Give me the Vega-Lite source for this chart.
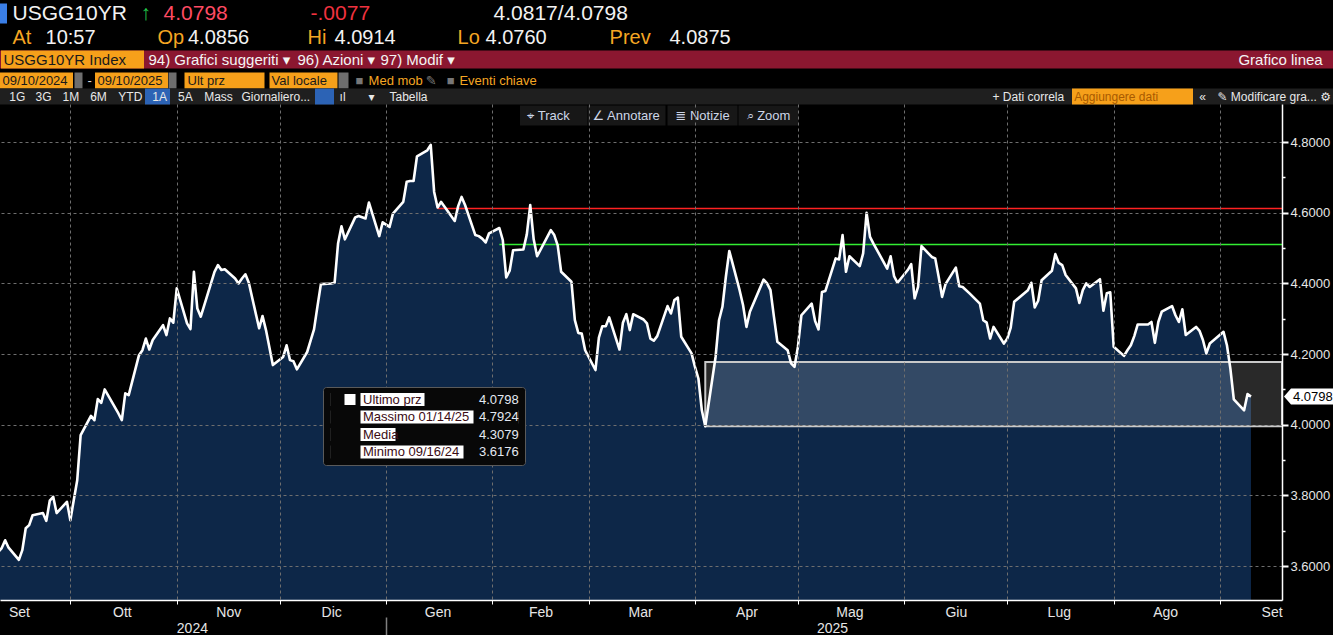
{
"$schema": "https://vega.github.io/schema/vega-lite/v6.json",
"width": 1282, "height": 496,
"autosize": {"type": "none"},
"padding": {"left": 0, "top": 104, "right": 51, "bottom": 35},
"background": "#000000",
"config": {
  "view": {"stroke": null},
  "axis": {"labelFlush": false, "labelOverlap": false, "labelBound": false, "labelLimit": 0, "labelFont": "Liberation Sans, DejaVu Sans, sans-serif", "grid": false, "domain": false, "tickCap": "butt"}
},
"datasets": {
  "prices": [
{"date":"2024-09-10","value":3.640},{"date":"2024-09-11","value":3.651},{"date":"2024-09-12","value":3.673},{"date":"2024-09-13","value":3.652},{"date":"2024-09-16","value":3.6176},{"date":"2024-09-17","value":3.645},{"date":"2024-09-18","value":3.707},{"date":"2024-09-19","value":3.716},{"date":"2024-09-20","value":3.744},{"date":"2024-09-23","value":3.750},{"date":"2024-09-24","value":3.728},{"date":"2024-09-25","value":3.785},{"date":"2024-09-26","value":3.796},{"date":"2024-09-27","value":3.750},{"date":"2024-09-30","value":3.782},
{"date":"2024-10-01","value":3.730},{"date":"2024-10-02","value":3.787},{"date":"2024-10-03","value":3.843},{"date":"2024-10-04","value":3.971},{"date":"2024-10-07","value":4.025},{"date":"2024-10-08","value":4.013},{"date":"2024-10-09","value":4.073},{"date":"2024-10-10","value":4.062},{"date":"2024-10-11","value":4.100},{"date":"2024-10-15","value":4.032},{"date":"2024-10-16","value":4.013},{"date":"2024-10-17","value":4.089},{"date":"2024-10-18","value":4.084},{"date":"2024-10-21","value":4.197},{"date":"2024-10-22","value":4.211},{"date":"2024-10-23","value":4.244},{"date":"2024-10-24","value":4.213},{"date":"2024-10-25","value":4.240},{"date":"2024-10-28","value":4.282},{"date":"2024-10-29","value":4.254},{"date":"2024-10-30","value":4.301},{"date":"2024-10-31","value":4.289},
{"date":"2024-11-01","value":4.386},{"date":"2024-11-04","value":4.287},{"date":"2024-11-05","value":4.271},{"date":"2024-11-06","value":4.433},{"date":"2024-11-07","value":4.329},{"date":"2024-11-08","value":4.306},{"date":"2024-11-12","value":4.433},{"date":"2024-11-13","value":4.452},{"date":"2024-11-14","value":4.438},{"date":"2024-11-15","value":4.440},{"date":"2024-11-18","value":4.414},{"date":"2024-11-19","value":4.400},{"date":"2024-11-20","value":4.414},{"date":"2024-11-21","value":4.426},{"date":"2024-11-22","value":4.402},{"date":"2024-11-25","value":4.273},{"date":"2024-11-26","value":4.308},{"date":"2024-11-27","value":4.268},{"date":"2024-11-29","value":4.169},
{"date":"2024-12-02","value":4.192},{"date":"2024-12-03","value":4.225},{"date":"2024-12-04","value":4.183},{"date":"2024-12-05","value":4.180},{"date":"2024-12-06","value":4.157},{"date":"2024-12-09","value":4.206},{"date":"2024-12-10","value":4.238},{"date":"2024-12-11","value":4.270},{"date":"2024-12-12","value":4.335},{"date":"2024-12-13","value":4.398},{"date":"2024-12-16","value":4.400},{"date":"2024-12-17","value":4.402},{"date":"2024-12-18","value":4.513},{"date":"2024-12-19","value":4.562},{"date":"2024-12-20","value":4.525},{"date":"2024-12-23","value":4.587},{"date":"2024-12-24","value":4.591},{"date":"2024-12-26","value":4.584},{"date":"2024-12-27","value":4.629},{"date":"2024-12-30","value":4.534},{"date":"2024-12-31","value":4.573},
{"date":"2025-01-02","value":4.560},{"date":"2025-01-03","value":4.598},{"date":"2025-01-06","value":4.631},{"date":"2025-01-07","value":4.688},{"date":"2025-01-08","value":4.690},{"date":"2025-01-09","value":4.690},{"date":"2025-01-10","value":4.760},{"date":"2025-01-13","value":4.777},{"date":"2025-01-14","value":4.7924},{"date":"2025-01-15","value":4.659},{"date":"2025-01-16","value":4.615},{"date":"2025-01-17","value":4.631},{"date":"2025-01-21","value":4.577},{"date":"2025-01-22","value":4.619},{"date":"2025-01-23","value":4.645},{"date":"2025-01-24","value":4.622},{"date":"2025-01-27","value":4.537},{"date":"2025-01-28","value":4.534},{"date":"2025-01-29","value":4.527},{"date":"2025-01-30","value":4.516},{"date":"2025-01-31","value":4.542},
{"date":"2025-02-03","value":4.557},{"date":"2025-02-04","value":4.523},{"date":"2025-02-05","value":4.417},{"date":"2025-02-06","value":4.436},{"date":"2025-02-07","value":4.494},{"date":"2025-02-10","value":4.496},{"date":"2025-02-11","value":4.539},{"date":"2025-02-12","value":4.622},{"date":"2025-02-13","value":4.525},{"date":"2025-02-14","value":4.477},{"date":"2025-02-18","value":4.551},{"date":"2025-02-19","value":4.537},{"date":"2025-02-20","value":4.508},{"date":"2025-02-21","value":4.433},{"date":"2025-02-24","value":4.405},{"date":"2025-02-25","value":4.296},{"date":"2025-02-26","value":4.260},{"date":"2025-02-27","value":4.258},{"date":"2025-02-28","value":4.211},
{"date":"2025-03-03","value":4.155},{"date":"2025-03-04","value":4.247},{"date":"2025-03-05","value":4.279},{"date":"2025-03-06","value":4.279},{"date":"2025-03-07","value":4.304},{"date":"2025-03-10","value":4.213},{"date":"2025-03-11","value":4.289},{"date":"2025-03-12","value":4.313},{"date":"2025-03-13","value":4.268},{"date":"2025-03-14","value":4.313},{"date":"2025-03-17","value":4.298},{"date":"2025-03-18","value":4.287},{"date":"2025-03-19","value":4.244},{"date":"2025-03-20","value":4.238},{"date":"2025-03-21","value":4.251},{"date":"2025-03-24","value":4.336},{"date":"2025-03-25","value":4.315},{"date":"2025-03-26","value":4.353},{"date":"2025-03-27","value":4.360},{"date":"2025-03-28","value":4.249},{"date":"2025-03-31","value":4.202},
{"date":"2025-04-01","value":4.164},{"date":"2025-04-02","value":4.131},{"date":"2025-04-03","value":4.041},{"date":"2025-04-04","value":3.996},{"date":"2025-04-07","value":4.192},{"date":"2025-04-08","value":4.296},{"date":"2025-04-09","value":4.334},{"date":"2025-04-10","value":4.419},{"date":"2025-04-11","value":4.492},{"date":"2025-04-14","value":4.381},{"date":"2025-04-15","value":4.339},{"date":"2025-04-16","value":4.277},{"date":"2025-04-17","value":4.320},{"date":"2025-04-21","value":4.411},{"date":"2025-04-22","value":4.400},{"date":"2025-04-23","value":4.381},{"date":"2025-04-24","value":4.306},{"date":"2025-04-25","value":4.235},{"date":"2025-04-28","value":4.211},{"date":"2025-04-29","value":4.174},{"date":"2025-04-30","value":4.164},
{"date":"2025-05-01","value":4.221},{"date":"2025-05-02","value":4.310},{"date":"2025-05-05","value":4.343},{"date":"2025-05-06","value":4.294},{"date":"2025-05-07","value":4.270},{"date":"2025-05-08","value":4.376},{"date":"2025-05-09","value":4.379},{"date":"2025-05-12","value":4.471},{"date":"2025-05-13","value":4.468},{"date":"2025-05-14","value":4.537},{"date":"2025-05-15","value":4.433},{"date":"2025-05-16","value":4.477},{"date":"2025-05-19","value":4.449},{"date":"2025-05-20","value":4.485},{"date":"2025-05-21","value":4.600},{"date":"2025-05-22","value":4.532},{"date":"2025-05-23","value":4.513},{"date":"2025-05-27","value":4.442},{"date":"2025-05-28","value":4.477},{"date":"2025-05-29","value":4.421},{"date":"2025-05-30","value":4.402},
{"date":"2025-06-02","value":4.438},{"date":"2025-06-03","value":4.455},{"date":"2025-06-04","value":4.358},{"date":"2025-06-05","value":4.390},{"date":"2025-06-06","value":4.506},{"date":"2025-06-09","value":4.475},{"date":"2025-06-10","value":4.471},{"date":"2025-06-11","value":4.419},{"date":"2025-06-12","value":4.362},{"date":"2025-06-13","value":4.398},{"date":"2025-06-16","value":4.445},{"date":"2025-06-17","value":4.392},{"date":"2025-06-18","value":4.390},{"date":"2025-06-20","value":4.372},{"date":"2025-06-23","value":4.343},{"date":"2025-06-24","value":4.296},{"date":"2025-06-25","value":4.289},{"date":"2025-06-26","value":4.244},{"date":"2025-06-27","value":4.277},{"date":"2025-06-30","value":4.230},
{"date":"2025-07-01","value":4.244},{"date":"2025-07-02","value":4.275},{"date":"2025-07-03","value":4.348},{"date":"2025-07-07","value":4.381},{"date":"2025-07-08","value":4.402},{"date":"2025-07-09","value":4.332},{"date":"2025-07-10","value":4.351},{"date":"2025-07-11","value":4.409},{"date":"2025-07-14","value":4.436},{"date":"2025-07-15","value":4.483},{"date":"2025-07-16","value":4.458},{"date":"2025-07-17","value":4.452},{"date":"2025-07-18","value":4.424},{"date":"2025-07-21","value":4.386},{"date":"2025-07-22","value":4.345},{"date":"2025-07-23","value":4.381},{"date":"2025-07-24","value":4.400},{"date":"2025-07-25","value":4.390},{"date":"2025-07-28","value":4.412},{"date":"2025-07-29","value":4.323},{"date":"2025-07-30","value":4.372},{"date":"2025-07-31","value":4.375},
{"date":"2025-08-01","value":4.221},{"date":"2025-08-04","value":4.195},{"date":"2025-08-05","value":4.211},{"date":"2025-08-06","value":4.225},{"date":"2025-08-07","value":4.251},{"date":"2025-08-08","value":4.284},{"date":"2025-08-11","value":4.284},{"date":"2025-08-12","value":4.291},{"date":"2025-08-13","value":4.232},{"date":"2025-08-14","value":4.291},{"date":"2025-08-15","value":4.320},{"date":"2025-08-18","value":4.336},{"date":"2025-08-19","value":4.310},{"date":"2025-08-20","value":4.291},{"date":"2025-08-21","value":4.327},{"date":"2025-08-22","value":4.254},{"date":"2025-08-25","value":4.277},{"date":"2025-08-26","value":4.266},{"date":"2025-08-27","value":4.240},{"date":"2025-08-28","value":4.202},{"date":"2025-08-29","value":4.230},
{"date":"2025-09-02","value":4.263},{"date":"2025-09-03","value":4.225},{"date":"2025-09-04","value":4.159},{"date":"2025-09-05","value":4.072},{"date":"2025-09-08","value":4.041},{"date":"2025-09-09","value":4.087},{"date":"2025-09-10","value":4.0798}
  ],
  "lastPrice": [{"label": "4.0798", "value": 4.0798}],
  "stats": [
    {"name": "Ultimo prz", "val": "4.0798"},
    {"name": "Massimo 01/14/25", "val": "4.7924"},
    {"name": "Media", "val": "4.3079"},
    {"name": "Minimo 09/16/24", "val": "3.6176"}
  ]
},
"data": {"name": "prices"},
"layer": [
  {
    "mark": {"type": "area", "color": "#0d2748", "clip": true},
    "encoding": {
      "x": {"field": "date", "type": "temporal",
        "scale": {"type": "utc", "domain": [{"year":2024,"month":9,"date":10,"hours":12,"utc":true},{"year":2025,"month":9,"date":19,"hours":1,"utc":true}]},
        "axis": {"orient": "bottom", "title": null, "labels": false, "grid": true, "gridColor": "#6e6e6e", "gridDash": [3,3], "gridWidth": 1,
          "ticks": true, "tickColor": "#ffffff", "tickSize": 4, "tickWidth": 1, "domain": true, "domainColor": "#ffffff", "domainWidth": 1.5, "zindex": 1,
          "values": [{"year":2024,"month":10,"date":1,"utc":true},{"year":2024,"month":11,"date":1,"utc":true},{"year":2024,"month":12,"date":1,"utc":true},{"year":2025,"month":1,"date":1,"utc":true},{"year":2025,"month":2,"date":1,"utc":true},{"year":2025,"month":3,"date":1,"utc":true},{"year":2025,"month":4,"date":1,"utc":true},{"year":2025,"month":5,"date":1,"utc":true},{"year":2025,"month":6,"date":1,"utc":true},{"year":2025,"month":7,"date":1,"utc":true},{"year":2025,"month":8,"date":1,"utc":true},{"year":2025,"month":9,"date":1,"utc":true}]}},
      "y": {"field": "value", "type": "quantitative", "scale": {"domain": [3.504, 4.908], "zero": false, "nice": false},
        "axis": {"orient": "right", "title": null, "values": [3.6,3.8,4.0,4.2,4.4,4.6,4.8], "format": ".4f", "grid": true, "gridColor": "#6e6e6e", "gridDash": [3,3], "gridWidth": 1,
          "ticks": true, "tickColor": "#ffffff", "tickSize": 6, "tickWidth": 2, "domain": true, "domainColor": "#ffffff", "domainWidth": 1.5,
          "labelColor": "#e6e6e6", "labelFontSize": 13, "labelPadding": 2, "zindex": 1}}
    }
  },
  {
    "data": {"values": [{"start": "2025-04-04", "end": "2025-09-19T01:00:00Z", "low": 3.996, "high": 4.178}]},
    "mark": {"type": "rect", "fill": "#ffffff", "fillOpacity": 0.16, "stroke": "#c9c9c9", "strokeWidth": 2},
    "encoding": {
      "x": {"field": "start", "type": "temporal", "scale": {"type": "utc", "domain": [{"year":2024,"month":9,"date":10,"hours":12,"utc":true},{"year":2025,"month":9,"date":19,"hours":1,"utc":true}]}, "axis": null},
      "x2": {"field": "end"},
      "y": {"field": "low", "type": "quantitative", "scale": {"domain": [3.504, 4.908], "zero": false, "nice": false}, "axis": null},
      "y2": {"field": "high"}
    }
  },
  {
    "data": {"values": [{"start": "2025-01-16", "end": "2025-09-19T01:00:00Z", "level": 4.612}]},
    "mark": {"type": "rule", "color": "#ff2222", "strokeWidth": 1.5},
    "encoding": {
      "x": {"field": "start", "type": "temporal", "scale": {"type": "utc", "domain": [{"year":2024,"month":9,"date":10,"hours":12,"utc":true},{"year":2025,"month":9,"date":19,"hours":1,"utc":true}]}, "axis": null},
      "x2": {"field": "end"},
      "y": {"field": "level", "type": "quantitative", "scale": {"domain": [3.504, 4.908], "zero": false, "nice": false}, "axis": null}
    }
  },
  {
    "data": {"values": [{"start": "2025-02-03", "end": "2025-09-19T01:00:00Z", "level": 4.510}]},
    "mark": {"type": "rule", "color": "#33ee33", "strokeWidth": 1.5},
    "encoding": {
      "x": {"field": "start", "type": "temporal", "scale": {"type": "utc", "domain": [{"year":2024,"month":9,"date":10,"hours":12,"utc":true},{"year":2025,"month":9,"date":19,"hours":1,"utc":true}]}, "axis": null},
      "x2": {"field": "end"},
      "y": {"field": "level", "type": "quantitative", "scale": {"domain": [3.504, 4.908], "zero": false, "nice": false}, "axis": null}
    }
  },
  {
    "mark": {"type": "line", "color": "#ffffff", "strokeWidth": 2.6, "strokeJoin": "round"},
    "encoding": {
      "x": {"field": "date", "type": "temporal", "scale": {"type": "utc", "domain": [{"year":2024,"month":9,"date":10,"hours":12,"utc":true},{"year":2025,"month":9,"date":19,"hours":1,"utc":true}]}, "axis": null},
      "y": {"field": "value", "type": "quantitative", "scale": {"domain": [3.504, 4.908], "zero": false, "nice": false}, "axis": null}
    }
  },
  {
    "data": {"name": "lastPrice"},
    "mark": {"type": "point", "shape": "M0.2,0L0.9,-0.8H5.1V0.8H0.9Z", "size": 400, "filled": true, "color": "#ffffff", "opacity": 1, "strokeWidth": 0},
    "encoding": {
      "x": {"datum": {"year":2025,"month":9,"date":19,"hours":1,"utc":true}, "type": "temporal", "scale": {"type": "utc", "domain": [{"year":2024,"month":9,"date":10,"hours":12,"utc":true},{"year":2025,"month":9,"date":19,"hours":1,"utc":true}]}, "axis": null},
      "y": {"field": "value", "type": "quantitative", "scale": {"domain": [3.504, 4.908], "zero": false, "nice": false}, "axis": null}
    }
  },
  {
    "data": {"name": "lastPrice"},
    "mark": {"type": "text", "align": "left", "baseline": "middle", "dx": 11, "fontSize": 13, "font": "Liberation Sans", "color": "#000000"},
    "encoding": {
      "x": {"datum": {"year":2025,"month":9,"date":19,"hours":1,"utc":true}, "type": "temporal", "scale": {"type": "utc", "domain": [{"year":2024,"month":9,"date":10,"hours":12,"utc":true},{"year":2025,"month":9,"date":19,"hours":1,"utc":true}]}, "axis": null},
      "y": {"field": "value", "type": "quantitative", "scale": {"domain": [3.504, 4.908], "zero": false, "nice": false}, "axis": null},
      "text": {"field": "label"}
    }
  },
  {
    "mark": {"type": "point", "opacity": 0},
    "encoding": {
      "y": {"field": "value", "type": "quantitative", "scale": {"domain": [3.504, 4.908], "zero": false, "nice": false},
        "axis": {"orient": "right", "title": null, "values": [3.7,3.9,4.1,4.3,4.5,4.7], "labels": false, "grid": false, "domain": false, "ticks": true, "tickColor": "#ffffff", "tickSize": 3, "tickWidth": 1.5, "zindex": 1}}
    }
  },
  {
    "mark": {"type": "point", "opacity": 0},
    "encoding": {
      "x": {"field": "date", "type": "temporal", "scale": {"type": "utc", "domain": [{"year":2024,"month":9,"date":10,"hours":12,"utc":true},{"year":2025,"month":9,"date":19,"hours":1,"utc":true}]},
        "axis": {"orient": "bottom", "title": null, "ticks": false, "tickSize": 0, "domain": false, "grid": false, "labelAlign": "center", "labelBaseline": "top", "labelPadding": 5,
          "labelFont": "Liberation Sans Narrow, Liberation Sans, sans-serif", "labelFontSize": 14, "labelColor": "#e6e6e6",
          "labelExpr": "['Gen','Feb','Mar','Apr','Mag','Giu','Lug','Ago','Set','Ott','Nov','Dic'][utcmonth(datum.value)]",
          "values": [{"year":2024,"month":9,"date":16,"utc":true},{"year":2024,"month":10,"date":16,"utc":true},{"year":2024,"month":11,"date":16,"utc":true},{"year":2024,"month":12,"date":16,"utc":true},{"year":2025,"month":1,"date":16,"utc":true},{"year":2025,"month":2,"date":15,"utc":true},{"year":2025,"month":3,"date":16,"utc":true},{"year":2025,"month":4,"date":16,"utc":true},{"year":2025,"month":5,"date":16,"utc":true},{"year":2025,"month":6,"date":16,"utc":true},{"year":2025,"month":7,"date":16,"utc":true},{"year":2025,"month":8,"date":16,"utc":true},{"year":2025,"month":9,"date":16,"utc":true}]}}
    }
  },
  {
    "mark": {"type": "point", "opacity": 0},
    "encoding": {
      "x": {"field": "date", "type": "temporal", "scale": {"type": "utc", "domain": [{"year":2024,"month":9,"date":10,"hours":12,"utc":true},{"year":2025,"month":9,"date":19,"hours":1,"utc":true}]},
        "axis": {"orient": "bottom", "title": null, "offset": 17, "domain": false, "grid": false, "ticks": true, "tickSize": 18, "tickWidth": 1.5,
          "tickColor": {"condition": {"test": "round(datum.index*2)==1", "value": "#808080"}, "value": "transparent"},
          "labelAlign": "center", "labelBaseline": "top", "labelPadding": -14,
          "labelFont": "Liberation Sans Narrow, Liberation Sans, sans-serif", "labelFontSize": 14, "labelColor": "#e6e6e6",
          "labelExpr": "['2024','','2025'][round(datum.index*2)]",
          "values": [{"year":2024,"month":11,"date":5,"hours":10,"utc":true},{"year":2025,"month":1,"date":1,"utc":true},{"year":2025,"month":5,"date":10,"hours":22,"utc":true}]}}
    }
  },
  {
    "mark": {"type": "point", "opacity": 0},
    "encoding": {
      "x": {"field": "date", "type": "temporal", "scale": {"type": "utc", "domain": [{"year":2024,"month":9,"date":10,"hours":12,"utc":true},{"year":2025,"month":9,"date":19,"hours":1,"utc":true}]},
        "axis": {"orient": "top", "title": null, "offset": 81, "domain": false, "grid": false, "ticks": true, "tickSize": 20,
          "tickWidth": {"condition": {"test": "round(datum.index*5)==0", "value": 7}, "value": 0}, "tickColor": "#3a7ee6",
          "labelAlign": "left", "labelBaseline": "middle", "labelPadding": -10, "labelFontSize": 21,
          "labelColor": {"condition": [{"test": "round(datum.index*5)==2", "value": "#22c94a"}, {"test": "round(datum.index*5)==3", "value": "#ff4b63"}, {"test": "round(datum.index*5)==4", "value": "#f0323f"}], "value": "#f2f2f2"},
          "labelExpr": "['','USGG10YR','↑','4.0798','-.0077','4.0817/4.0798'][round(datum.index*5)]",
          "values": [{"year":2024,"month":9,"date":11,"hours":12,"utc":true},{"year":2024,"month":9,"date":14,"utc":true},{"year":2024,"month":10,"date":21,"hours":7,"utc":true},{"year":2024,"month":10,"date":28,"utc":true},{"year":2024,"month":12,"date":9,"hours":20,"utc":true},{"year":2025,"month":2,"date":1,"hours":4,"utc":true}]}}
    }
  },
  {
    "mark": {"type": "point", "opacity": 0},
    "encoding": {
      "x": {"field": "date", "type": "temporal", "scale": {"type": "utc", "domain": [{"year":2024,"month":9,"date":10,"hours":12,"utc":true},{"year":2025,"month":9,"date":19,"hours":1,"utc":true}]},
        "axis": {"orient": "top", "title": null, "offset": 57, "domain": false, "grid": false, "ticks": false, "tickSize": 0,
          "labelAlign": "left", "labelBaseline": "middle", "labelPadding": 10, "labelFontSize": 20,
          "labelColor": {"condition": {"test": "round(datum.index*9)%2==0", "value": "#f5a623"}, "value": "#f2f2f2"},
          "labelExpr": "['At','10:57','Op','4.0856','Hi','4.0914','Lo','4.0760','Prev','4.0875'][round(datum.index*9)]",
          "values": [{"year":2024,"month":9,"date":14,"utc":true},{"year":2024,"month":9,"date":23,"hours":15,"utc":true},{"year":2024,"month":10,"date":26,"hours":6,"utc":true},{"year":2024,"month":11,"date":4,"hours":3,"utc":true},{"year":2024,"month":12,"date":8,"hours":23,"utc":true},{"year":2024,"month":12,"date":16,"hours":20,"utc":true},{"year":2025,"month":1,"date":21,"hours":16,"utc":true},{"year":2025,"month":1,"date":29,"hours":20,"utc":true},{"year":2025,"month":3,"date":6,"hours":23,"utc":true},{"year":2025,"month":3,"date":24,"hours":10,"utc":true}]}}
    }
  },
  {
    "mark": {"type": "point", "opacity": 0},
    "encoding": {
      "x": {"field": "date", "type": "temporal", "scale": {"type": "utc", "domain": [{"year":2024,"month":9,"date":10,"hours":12,"utc":true},{"year":2025,"month":9,"date":19,"hours":1,"utc":true}]},
        "axis": {"orient": "top", "title": null, "offset": 36, "domain": false, "grid": false, "ticks": true, "tickSize": 18,
          "tickWidth": {"condition": [{"test": "round(datum.index*6)==1", "value": 2600}, {"test": "round(datum.index*6)==2", "value": 143}], "value": 0},
          "tickColor": {"condition": {"test": "round(datum.index*6)==2", "value": "#f6a01a"}, "value": "#8b1730"},
          "labelAlign": "left", "labelBaseline": "middle", "labelPadding": -9, "labelFontSize": 15,
          "labelColor": {"condition": {"test": "round(datum.index*6)==0", "value": "#1a1a1a"}, "value": "#f4f4f4"},
          "labelExpr": "['USGG10YR Index','','','94) Grafici suggeriti ▾','96) Azioni ▾','97) Modif ▾','Grafico linea'][round(datum.index*6)]",
          "values": [{"year":2024,"month":9,"date":11,"hours":9,"utc":true},{"year":2024,"month":9,"date":22,"hours":4,"utc":true},{"year":2024,"month":10,"date":1,"hours":8,"utc":true},{"year":2024,"month":10,"date":23,"hours":15,"utc":true},{"year":2024,"month":12,"date":6,"hours":1,"utc":true},{"year":2024,"month":12,"date":30,"hours":5,"utc":true},{"year":2025,"month":9,"date":6,"hours":5,"utc":true}]}}
    }
  },
  {
    "mark": {"type": "point", "opacity": 0},
    "encoding": {
      "x": {"field": "date", "type": "temporal", "scale": {"type": "utc", "domain": [{"year":2024,"month":9,"date":10,"hours":12,"utc":true},{"year":2025,"month":9,"date":19,"hours":1,"utc":true}]},
        "axis": {"orient": "top", "title": null, "offset": 16, "domain": false, "grid": false, "ticks": true, "tickSize": 16,
          "tickWidth": {"condition": [{"test": "round(datum.index*16)==1", "value": 73}, {"test": "round(datum.index*16)==2", "value": 8}, {"test": "round(datum.index*16)==5", "value": 73}, {"test": "round(datum.index*16)==6", "value": 8}, {"test": "round(datum.index*16)==8", "value": 80}, {"test": "round(datum.index*16)==10", "value": 68}, {"test": "round(datum.index*16)==11", "value": 10}], "value": 0},
          "tickColor": {"condition": {"test": "indexof([2,6,11], round(datum.index*16)) >= 0", "value": "#6e6e6e"}, "value": "#f6a01a"},
          "labelAlign": "left", "labelBaseline": "middle", "labelPadding": -8, "labelFontSize": 13,
          "labelColor": {"condition": [{"test": "indexof([0,4,7,9], round(datum.index*16)) >= 0", "value": "#1a1a1a"}, {"test": "indexof([13,16], round(datum.index*16)) >= 0", "value": "#f5a623"}, {"test": "indexof([12,14,15], round(datum.index*16)) >= 0", "value": "#777777"}], "value": "#dddddd"},
          "labelExpr": "['09/10/2024','','','-','09/10/2025','','','Ult prz','','Val locale','','','■','Med mob','✎','■','Eventi chiave'][round(datum.index*16)]",
          "values": [{"year":2024,"month":9,"date":11,"hours":2,"utc":true},{"year":2024,"month":9,"date":21,"hours":3,"utc":true},{"year":2024,"month":10,"date":3,"hours":6,"utc":true},{"year":2024,"month":10,"date":5,"hours":20,"utc":true},{"year":2024,"month":10,"date":8,"hours":18,"utc":true},{"year":2024,"month":10,"date":18,"hours":16,"utc":true},{"year":2024,"month":10,"date":30,"hours":18,"utc":true},{"year":2024,"month":11,"date":4,"utc":true},{"year":2024,"month":11,"date":14,"hours":18,"utc":true},{"year":2024,"month":11,"date":28,"hours":11,"utc":true},{"year":2024,"month":12,"date":7,"hours":19,"utc":true},{"year":2024,"month":12,"date":19,"hours":11,"utc":true},{"year":2024,"month":12,"date":22,"hours":23,"utc":true},{"year":2024,"month":12,"date":26,"hours":18,"utc":true},{"year":2025,"month":1,"date":12,"hours":10,"utc":true},{"year":2025,"month":1,"date":18,"hours":12,"utc":true},{"year":2025,"month":1,"date":22,"hours":5,"utc":true}]}}
    }
  },
  {
    "mark": {"type": "point", "opacity": 0},
    "encoding": {
      "x": {"field": "date", "type": "temporal", "scale": {"type": "utc", "domain": [{"year":2024,"month":9,"date":10,"hours":12,"utc":true},{"year":2025,"month":9,"date":19,"hours":1,"utc":true}]},
        "axis": {"orient": "top", "title": null, "offset": 0, "domain": false, "grid": false, "ticks": true, "tickSize": 16,
          "tickWidth": {"condition": [{"test": "round(datum.index*19)==2", "value": 2600}, {"test": "round(datum.index*19)==7", "value": 25}, {"test": "round(datum.index*19)==11", "value": 19}, {"test": "round(datum.index*19)==17", "value": 121}], "value": 0},
          "tickColor": {"condition": [{"test": "round(datum.index*19)==2", "value": "#1f1f1f"}, {"test": "round(datum.index*19)==17", "value": "#f6a01a"}], "value": "#2c63b5"},
          "labelAlign": "left", "labelBaseline": "middle", "labelPadding": -8, "labelFontSize": 12,
          "labelColor": {"condition": {"test": "round(datum.index*19)==16", "value": "#a85a00"}, "value": "#e8e8e8"},
          "labelExpr": "['1G','3G','','1M','6M','YTD','1A','','5A','Mass','Giornaliero...','','ıl','▾','Tabella','+ Dati correla','Aggiungere dati','','«','✎ Modificare gra...  ⚙'][round(datum.index*19)]",
          "values": [{"year":2024,"month":9,"date":13,"hours":1,"utc":true},{"year":2024,"month":9,"date":20,"hours":17,"utc":true},{"year":2024,"month":9,"date":22,"hours":4,"utc":true},{"year":2024,"month":9,"date":28,"hours":14,"utc":true},{"year":2024,"month":10,"date":6,"hours":15,"utc":true},{"year":2024,"month":10,"date":14,"hours":20,"utc":true},{"year":2024,"month":10,"date":24,"hours":17,"utc":true},{"year":2024,"month":10,"date":26,"hours":6,"utc":true},{"year":2024,"month":11,"date":1,"hours":5,"utc":true},{"year":2024,"month":11,"date":8,"hours":20,"utc":true},{"year":2024,"month":11,"date":19,"hours":17,"utc":true},{"year":2024,"month":12,"date":13,"hours":22,"utc":true},{"year":2024,"month":12,"date":18,"hours":7,"utc":true},{"year":2024,"month":12,"date":26,"hours":18,"utc":true},{"year":2025,"month":1,"date":1,"hours":20,"utc":true},{"year":2025,"month":6,"date":26,"hours":13,"utc":true},{"year":2025,"month":7,"date":20,"hours":8,"utc":true},{"year":2025,"month":8,"date":6,"hours":5,"utc":true},{"year":2025,"month":8,"date":25,"hours":18,"utc":true},{"year":2025,"month":8,"date":31,"hours":2,"utc":true}]}}
    }
  },
  {
    "mark": {"type": "point", "opacity": 0},
    "encoding": {
      "x": {"field": "date", "type": "temporal", "scale": {"type": "utc", "domain": [{"year":2024,"month":9,"date":10,"hours":12,"utc":true},{"year":2025,"month":9,"date":19,"hours":1,"utc":true}]},
        "axis": {"orient": "top", "title": null, "offset": -21, "domain": false, "grid": false, "ticks": true, "tickSize": 20,
          "tickWidth": {"condition": [{"test": "round(datum.index*7)==1", "value": 67}, {"test": "round(datum.index*7)==3", "value": 78}, {"test": "round(datum.index*7)==5", "value": 70}, {"test": "round(datum.index*7)==7", "value": 60}], "value": 0},
          "tickColor": "#171717",
          "labelAlign": "left", "labelBaseline": "middle", "labelPadding": -10, "labelFontSize": 13, "labelColor": "#cdd6e8",
          "labelExpr": "['⌖  Track','','∠  Annotare','','≣  Notizie','','⌕  Zoom',''][round(datum.index*7)]",
          "values": [{"year":2025,"month":2,"date":11,"hours":1,"utc":true},{"year":2025,"month":2,"date":18,"hours":12,"utc":true},{"year":2025,"month":3,"date":2,"utc":true},{"year":2025,"month":3,"date":11,"hours":22,"utc":true},{"year":2025,"month":3,"date":26,"hours":4,"utc":true},{"year":2025,"month":4,"date":3,"hours":1,"utc":true},{"year":2025,"month":4,"date":15,"hours":21,"utc":true},{"year":2025,"month":4,"date":22,"hours":7,"utc":true}]}}
    }
  },
  {
    "data": {"name": "stats"},
    "mark": {"type": "point", "opacity": 0, "filled": true, "color": "#ffffff"},
    "encoding": {
      "shape": {"field": "name", "type": "nominal",
        "scale": {
          "domain": ["Ultimo prz", "Massimo 01/14/25", "Media", "Minimo 09/16/24"],
          "range": [
            "M-1,-1.3H-0.98V1.3H-1Z M1.8,-1.1H4V1.1H1.8Z M5,-1.3H17.8V1.3H5Z",
            "M-1,-1.3H-0.98V1.3H-1Z M5,-1.3H27.6V1.3H5Z M36.58,-1.3H36.6V1.3H36.58Z",
            "M-1,-1.3H-0.98V1.3H-1Z M5,-1.3H12V1.3H5Z",
            "M-1,-1.3H-0.98V1.3H-1Z M5,-1.3H25.6V1.3H5Z"
          ]},
        "legend": {"orient": "none", "legendX": 323, "legendY": 283, "title": null, "rowPadding": 3.5, "padding": 6,
          "symbolSize": 100, "symbolFillColor": "#ffffff", "symbolStrokeWidth": 0, "symbolOpacity": 1,
          "labelOffset": 21, "labelFontSize": 13, "labelFont": "Liberation Sans, DejaVu Sans, sans-serif", "labelColor": "#3c0c14", "labelLimit": 0,
          "fillColor": "#080808", "strokeColor": "#5a5a5a", "cornerRadius": 3, "zindex": 2}
      }
    }
  },
  {
    "data": {"name": "stats"},
    "mark": {"type": "point", "opacity": 0, "filled": true},
    "encoding": {
      "color": {"field": "val", "type": "nominal",
        "scale": {"domain": ["4.0798", "4.7924", "4.3079", "3.6176"], "range": ["#080808", "#080808", "#080808", "#080808"]},
        "legend": {"orient": "none", "legendX": 462, "legendY": 289, "title": null, "rowPadding": 3.5, "padding": 0,
          "symbolSize": 100, "symbolType": "M-1,-1.3H-0.98V1.3H-1Z", "symbolOpacity": 0, "symbolStrokeWidth": 0,
          "labelOffset": 4, "labelFontSize": 13, "labelFont": "Liberation Sans, DejaVu Sans, sans-serif", "labelColor": "#e4e9f2", "labelLimit": 0,
          "zindex": 3}
      }
    }
  }
],
"resolve": {"axis": {"x": "independent", "y": "independent"}}
}
